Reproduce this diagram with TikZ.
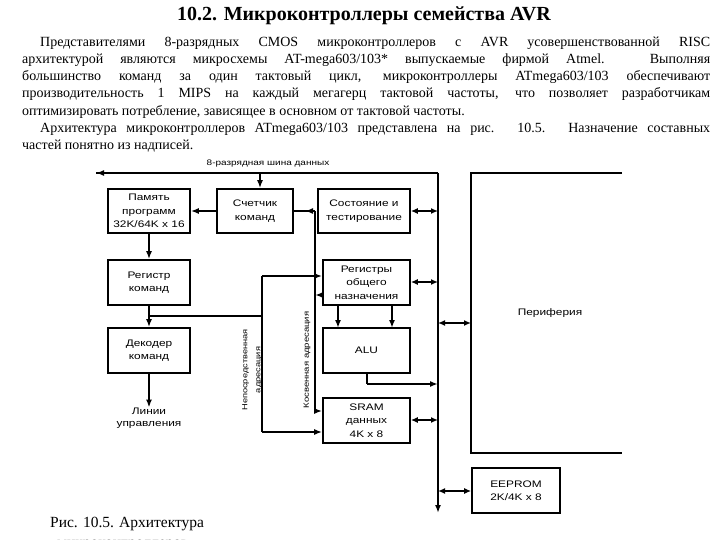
\documentclass[tikz,border=0pt]{standalone}
\usepackage{fontspec}
\setmainfont{Liberation Serif}
\newfontfamily\diagfont[FakeStretch=1.25]{Liberation Sans}
\usetikzlibrary{arrows.meta}
\begin{document}
\begin{tikzpicture}[x=1pt,y=-1pt,
 box/.style={draw, line width=1.6pt, inner sep=0pt, align=center, font=\diagfont\fontsize{9.5}{13.5}\selectfont},
 wire/.style={line width=1.6pt},
 arr/.style={wire,-{Latex[length=8pt,width=6pt]}},
 darr/.style={wire,{Latex[length=7pt,width=6pt]}-{Latex[length=7pt,width=6pt]}},
 lbl/.style={font=\diagfont\fontsize{9.5}{12}\selectfont, inner sep=0pt, align=center},
 body/.style={anchor=base west, inner sep=0pt, font=\fontsize{14}{17}\selectfont}]
\useasboundingbox (0,0) rectangle (720,540);
\clip (0,0) rectangle (720,540);

% title and text
\node[anchor=base, inner sep=0pt, font=\bfseries\fontsize{20}{22}\selectfont] (title) at (364,21) {10.2. Микроконтроллеры семейства AVR};
\node[body] (l1) at (40,46.5) {\makebox[670pt][s]{Представителями 8-разрядных CMOS микроконтроллеров с AVR усовершенствованной RISC}};
\node[body] (l2) at (22,63.5) {\makebox[688pt][s]{архитектурой являются микросхемы AT-mega603/103* выпускаемые фирмой Atmel. Выполняя}};
\node[body] (l3) at (22,81) {\makebox[688pt][s]{большинство команд за один тактовый цикл, микроконтроллеры ATmega603/103 обеспечивают}};
\node[body] (l4) at (22,98) {\makebox[688pt][s]{производительность 1 MIPS на каждый мегагерц тактовой частоты, что позволяет разработчикам}};
\node[body] (l5) at (22,115.5) {оптимизировать потребление, зависящее в основном от тактовой частоты.};
\node[body] (l6) at (40,132.5) {\makebox[670pt][s]{Архитектура микроконтроллеров ATmega603/103 представлена на рис. 10.5. Назначение составных}};
\node[body] (l7) at (22,149.5) {частей понятно из надписей.};

% caption
\node[anchor=base west, inner sep=0pt, font=\fontsize{15.5}{18}\selectfont] (cap1) at (50,527) {Рис. 10.5. Архитектура};
\node[anchor=base west, inner sep=0pt, font=\fontsize{15.5}{18}\selectfont] (cap2) at (57,547) {микроконтроллеров};

% boxes
\node[box, minimum width=82pt, minimum height=44pt] (mem) at (149,211) {Память\\программ\\32K/64K x 16};
\node[box, minimum width=76pt, minimum height=44pt] (cnt) at (255,211) {Счетчик\\команд};
\node[box, minimum width=92pt, minimum height=44pt] (stat) at (364,211) {Состояние и\\тестирование};
\node[box, minimum width=82pt, minimum height=45pt] (ir) at (149,282.5) {Регистр\\команд};
\node[box, minimum width=87pt, minimum height=45pt] (regs) at (366.5,282.5) {Регистры\\общего\\назначения};
\node[box, minimum width=82pt, minimum height=45pt] (dec) at (149,350.5) {Декодер\\команд};
\node[box, minimum width=87pt, minimum height=45pt] (alu) at (366.5,350.5) {ALU};
\node[box, minimum width=87pt, minimum height=45pt] (sram) at (366.5,420.5) {SRAM\\данных\\4K x 8};
\node[box, minimum width=88pt, minimum height=45pt] (eep) at (516,490.5) {EEPROM\\2K/4K x 8};

% periphery (open box)
\draw[wire] (622,173) -- (471,173) -- (471,453) -- (622,453);
\node[lbl] (per) at (550,313) {Периферия};

% data bus
\coordinate (busL) at (96,173);
\coordinate (busC) at (438,173);
\coordinate (busB) at (438,513);
\draw[wire] (busL) -- (busC);
\draw[arr] (busC) -- (busL);
\draw[arr] (busC) -- (busB);
\node[lbl, font=\diagfont\fontsize{8}{10}\selectfont] (buslbl) at (268,164) {8-разрядная шина данных};
\coordinate (busT) at (260,173);
\draw[arr] (busT) -- (busT|-cnt.north);

% program flow
\draw[arr] (cnt.west) -- (mem.east);
\draw[arr] (mem.south) -- (ir.north);
\draw[arr] (ir.south) -- (dec.north);
\node[lbl] (ctl) at (149,418) {Линии\\управления};
\draw[arr] (dec.south) -- (ctl.north);

% direct addressing
\coordinate (dA) at (149,316);
\coordinate (dB) at (262,316);
\coordinate (dT) at (262,276);
\coordinate (dD) at (262,432);
\draw[wire] (dA) -- (dB);
\draw[wire] (dT) -- (dD);
\draw[arr] (dT) -- (dT-|regs.west);
\draw[arr] (dD) -- (dD-|sram.west);
\node[lbl, rotate=90, font=\diagfont\fontsize{7.4}{13}\selectfont] (dlbl) at (252,370) {Непосредственная\\адресация};

% indirect addressing
\coordinate (iT) at (315,211);
\coordinate (iR) at (315,295);
\coordinate (iS) at (315,411);
\coordinate (iA) at (305,211);
\draw[wire] (iT) -- (iS);
\draw[wire] (cnt.east|-iT) -- (iT);
\draw[arr] (iT) -- (iA);
\draw[arr] (iR-|regs.west) -- (iR);
\draw[arr] (iS) -- (iS-|sram.west);
\node[lbl, rotate=90, font=\diagfont\fontsize{7.6}{13}\selectfont] (ilbl) at (307,360) {Косвенная адресация};

% ALU
\draw[arr] (338,305) -- (338,328);
\draw[arr] (392,305) -- (392,328);
\coordinate (aO) at (367,384);
\draw[wire] (alu.south-|aO) -- (aO);
\draw[arr] (aO) -- (aO-|busC);

% bus connections
\coordinate (bs) at (438,211);
\coordinate (br) at (438,282);
\coordinate (bsr) at (438,420);
\coordinate (bp) at (438,323);
\coordinate (pp) at (471,323);
\coordinate (be) at (438,491);
\draw[darr] (stat.east|-bs) -- (bs);
\draw[darr] (regs.east|-br) -- (br);
\draw[darr] (sram.east|-bsr) -- (bsr);
\draw[darr] (bp) -- (pp);
\draw[darr] (be) -- (be-|eep.west);
\end{tikzpicture}
\end{document}
